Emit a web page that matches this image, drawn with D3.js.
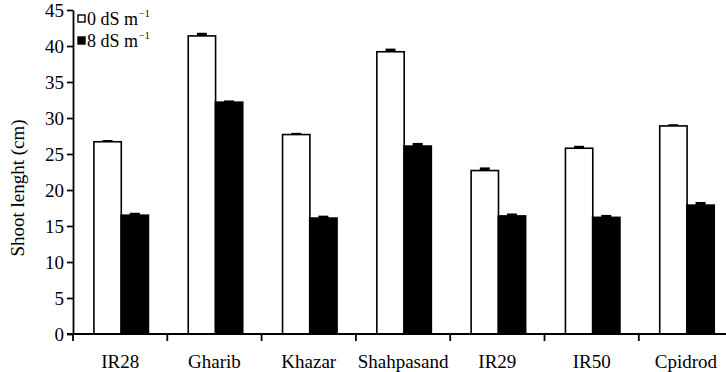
<!doctype html>
<html>
<head>
<script src="https://d3js.org/d3.v7.min.js"></script>
<style>
  body { margin: 0; background: #fff; }
  svg text { font-family: "Liberation Serif", "DejaVu Serif", serif; }
</style>
</head>
<body>
<svg width="726" height="372" id="chart"></svg>
<script>
// data
var cultivars = ["IR28", "Gharib", "Khazar", "Shahpasand", "IR29", "IR50", "Cpidrod"];
var control = [26.7, 41.4, 27.7, 39.2, 22.7, 25.8, 28.9];     // 0 dS m-1
var salt = [16.5, 32.2, 16.1, 26.1, 16.4, 16.2, 17.9];         // 8 dS m-1
var controlErr = [0.1, 0.3, 0.1, 0.3, 0.3, 0.2, 0.1];
var saltErr = [0.2, 0.1, 0.2, 0.3, 0.2, 0.2, 0.3];
var yTicks = [0, 5, 10, 15, 20, 25, 30, 35, 40, 45];
var legendLabels = ["0 dS m", "8 dS m"];

var serif = "Liberation Serif";
var svg = d3.select("#chart");
var x0 = 73, yZero = 334, yTop = 10;

var x = d3.scaleBand().domain(cultivars).range([x0, x0 + 7 * 94.3]).paddingInner(0).paddingOuter(0);
var y = d3.scaleLinear().domain([0, 45]).range([yZero, yTop]);
var bw = x.bandwidth();

// bars
var g = svg.append("g");
var series = [
  { vals: control, errs: controlErr, fill: "#fff", off: 0.222 },
  { vals: salt, errs: saltErr, fill: "#000", off: 0.51 }
];
series.forEach(function (s) {
  var barW = bw * 0.29;
  g.selectAll(null)
    .data(cultivars)
    .enter()
    .append("rect")
    .attr("x", function (d) { return x(d) + bw * s.off; })
    .attr("y", function (d, i) { return y(s.vals[i]); })
    .attr("width", barW)
    .attr("height", function (d, i) { return yZero - y(s.vals[i]); })
    .style("fill", s.fill)
    .style("stroke", "#000")
    .style("stroke-width", 1.6);
  // error caps
  g.selectAll(null)
    .data(cultivars)
    .enter()
    .append("rect")
    .attr("x", function (d) { return x(d) + bw * s.off + barW / 2 - 5; })
    .attr("y", function (d, i) { return y(s.vals[i] + s.errs[i]) - 1; })
    .attr("width", 10)
    .attr("height", function (d, i) { return y(s.vals[i]) - y(s.vals[i] + s.errs[i]) + 1; })
    .style("fill", "#000");
});

// y axis
var yAxis = svg.append("g")
  .attr("transform", "translate(" + x0 + ",0)")
  .call(d3.axisLeft(y).tickValues(yTicks).tickSize(6).tickSizeOuter(0))
  .attr("font-family", serif)
  .attr("font-size", 19);
yAxis.select(".domain").style("stroke-width", 1.8);
yAxis.selectAll(".tick line").style("stroke-width", 1.8);
yAxis.selectAll("text").attr("x", -9);

// x axis
svg.append("line")
  .attr("x1", x0 - 6).attr("x2", 726)
  .attr("y1", yZero).attr("y2", yZero)
  .style("stroke", "#000").style("stroke-width", 1.8);
svg.selectAll(null)
  .data(cultivars)
  .enter()
  .append("line")
  .attr("x1", function (d) { return x(d); })
  .attr("x2", function (d) { return x(d); })
  .attr("y1", yZero).attr("y2", yZero + 7)
  .style("stroke", "#000").style("stroke-width", 1.8);
svg.selectAll(null)
  .data(cultivars)
  .enter()
  .append("text")
  .attr("x", function (d) { return x(d) + bw / 2; })
  .attr("y", 368)
  .attr("text-anchor", "middle")
  .attr("font-family", serif)
  .attr("font-size", 19)
  .text(function (d) { return d; });

// y title
svg.append("text")
  .attr("transform", "translate(24,188)rotate(-90)")
  .attr("text-anchor", "middle")
  .attr("font-family", serif)
  .attr("font-size", 19)
  .text("Shoot lenght (cm)");

// legend
var leg = svg.append("g");
legendLabels.forEach(function (lab, i) {
  var ly = 19 + i * 22;
  leg.append("rect")
    .attr("x", 78).attr("y", ly - 4)
    .attr("width", 7).attr("height", 7)
    .style("fill", i === 0 ? "#fff" : "#000")
    .style("stroke", "#000").style("stroke-width", 1.4);
  var t = leg.append("text")
    .attr("x", 87).attr("y", ly + 6)
    .attr("font-family", serif)
    .attr("font-size", 18);
  t.append("tspan").text(lab);
  t.append("tspan").attr("dy", -8).attr("dx", 1).attr("font-size", 10).text("\u22121");
});
</script>
</body>
</html>
